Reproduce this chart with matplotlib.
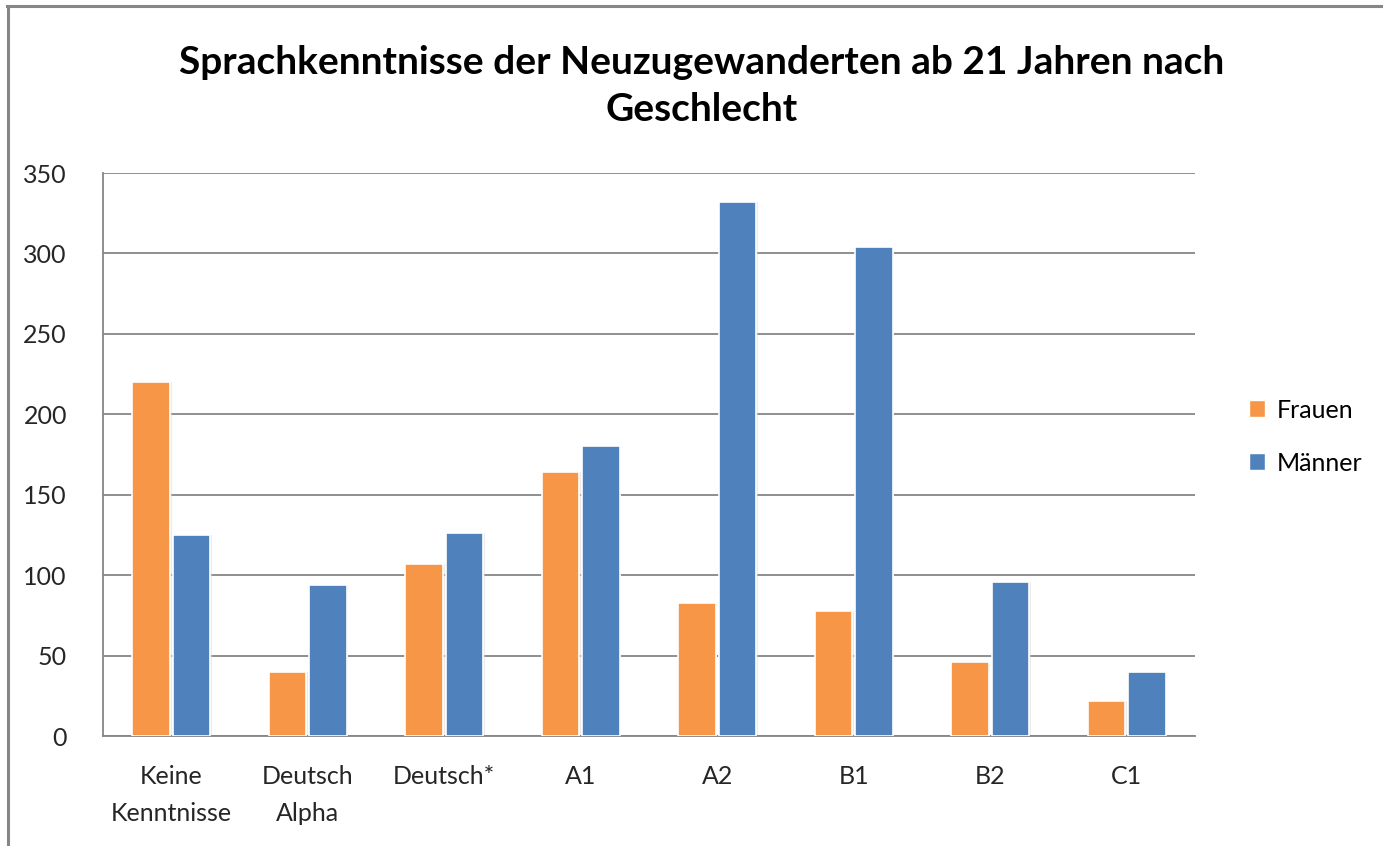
import numpy as np
import matplotlib.pyplot as plt
from matplotlib.lines import Line2D
from matplotlib.patches import Patch

kategorien = ['Keine\nKenntnisse', 'Deutsch\nAlpha', 'Deutsch*', 'A1', 'A2', 'B1', 'B2', 'C1']
frauen = [220, 40, 107, 164, 83, 78, 46, 22]
maenner = [125, 94, 126, 180, 332, 304, 96, 40]

orange = '#F79646'
blau = '#4F81BD'
grau = '#868686'

plt.rcParams['font.family'] = ['Lato', 'DejaVu Sans']

fig = plt.figure(figsize=(13.83, 8.46), dpi=100)
ax = fig.add_axes([0.0745, 0.130, 0.7895, 0.6655])

x = np.arange(len(kategorien))
b = 0.275
for dx, vals, col in [(-b / 2 - 0.01, frauen, orange), (b / 2 + 0.01, maenner, blau)]:
    # leichter Schatten
    ax.bar(x + dx + 0.012, vals, width=b, color='#d9d9d9', alpha=0.5, zorder=2)
    ax.bar(x + dx, vals, width=b, color=col, edgecolor='white', linewidth=1.2, zorder=3)

ax.set_xlim(-0.5, len(kategorien) - 0.5)
ax.set_ylim(0, 350)
ax.set_yticks(range(0, 351, 50))
ax.set_xticks(x)
ax.set_xticklabels(kategorien, fontsize=18, color='#262626', linespacing=1.75)
ax.tick_params(axis='y', labelsize=18, labelcolor='#262626', length=0, pad=26)
ax.tick_params(axis='x', length=0, pad=21)
ax.grid(axis='y', color=grau, linewidth=1.3, zorder=0)
ax.set_axisbelow(True)
for s in ['top', 'right']:
    ax.spines[s].set_visible(False)
for s in ['left', 'bottom']:
    ax.spines[s].set_color(grau)
    ax.spines[s].set_linewidth(1.3)

fig.text(0.5076, 0.898, 'Sprachkenntnisse der Neuzugewanderten ab 21 Jahren nach\nGeschlecht',
         ha='center', va='center', fontsize=28, fontweight='bold', linespacing=1.42)

handles = [Patch(facecolor=orange, edgecolor='white', label='Frauen'),
           Patch(facecolor=blau, edgecolor='white', label='Männer')]
fig.legend(handles=handles, loc='center left', bbox_to_anchor=(0.887, 0.484), frameon=False,
           fontsize=18, handlelength=0.65, handleheight=0.65, handletextpad=0.45, labelspacing=1.2)

# Rahmen des Diagrammbereichs
fig.add_artist(Line2D([7 / 1383, 1], [1 - 6 / 846, 1 - 6 / 846], color=grau, linewidth=2.2))
fig.add_artist(Line2D([8 / 1383, 8 / 1383], [0, 1 - 6 / 846], color=grau, linewidth=2.2))

fig.savefig('out.png', dpi=100)
